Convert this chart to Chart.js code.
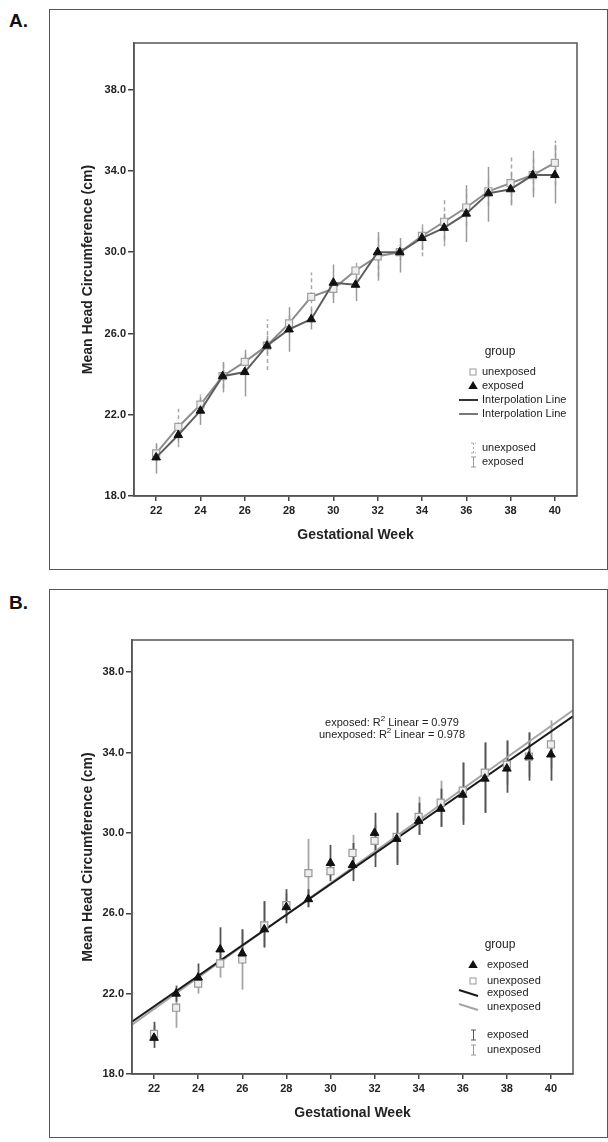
<!DOCTYPE html>
<html>
<head>
<meta charset="utf-8">
<script src="https://cdn.jsdelivr.net/npm/chart.js@4.4.1/dist/chart.umd.min.js"></script>
<style>
  body { margin: 0; background: #fff; width: 608px; height: 1142px; position: relative; overflow: hidden; }
  .tag { position: absolute; font: bold 19px "Liberation Sans", Arial, sans-serif; color: #111; }
  .frame { position: absolute; border: 1.5px solid #555; box-sizing: border-box; }
  canvas { position: absolute; }
</style>
</head>
<body>
<div class="tag" style="left:9px;top:10px">A.</div>
<div class="frame" style="left:49px;top:9px;width:559px;height:561px"></div>
<canvas id="chartA" width="557" height="559" style="left:50px;top:10px"></canvas>

<div class="tag" style="left:9px;top:592px">B.</div>
<div class="frame" style="left:49px;top:589px;width:559px;height:549px"></div>
<canvas id="chartB" width="557" height="547" style="left:50px;top:590px"></canvas>

<script>
const FONT = '"Liberation Sans", Arial, sans-serif';

// gestational weeks and axis ticks
const weeks = [22, 23, 24, 25, 26, 27, 28, 29, 30, 31, 32, 33, 34, 35, 36, 37, 38, 39, 40];
const xTicks = [22, 24, 26, 28, 30, 32, 34, 36, 38, 40];
const yTicks = [18, 22, 26, 30, 34, 38];

// panel A: means and error bar ends
const exposedA   = [19.9, 21.0, 22.2, 23.9, 24.1, 25.4, 26.2, 26.7, 28.5, 28.4, 30.0, 30.0, 30.7, 31.2, 31.9, 32.9, 33.1, 33.8, 33.8];
const unexposedA = [20.1, 21.4, 22.5, 23.9, 24.6, 25.4, 26.5, 27.8, 28.2, 29.1, 29.8, 30.0, 30.8, 31.5, 32.2, 33.0, 33.4, 33.8, 34.4];
const exposedLoA   = [19.1, 20.6, 21.5, 23.1, 22.9, 25.0, 25.1, 26.2, 27.5, 27.6, 28.6, 29.0, 30.1, 30.5, 30.5, 31.5, 32.3, 32.7, 32.4];
const exposedHiA   = [20.6, 21.5, 22.9, 24.6, 25.2, 25.9, 27.3, 27.2, 29.4, 29.0, 31.0, 30.7, 31.2, 31.9, 33.3, 34.2, 33.9, 35.0, 35.3];
const unexposedLoA = [19.7, 20.4, 21.9, 23.3, 24.1, 24.2, 26.0, 26.8, 27.8, 28.6, 28.8, 29.6, 29.8, 30.3, 31.3, 32.3, 32.4, 33.0, 33.3];
const unexposedHiA = [20.5, 22.3, 23.0, 24.5, 25.1, 26.7, 27.0, 29.0, 28.6, 29.6, 30.8, 30.4, 31.5, 32.7, 33.1, 33.7, 34.7, 34.6, 35.5];

// panel B: means, error bar ends, linear fits
const exposedB   = [19.8, 22.0, 22.8, 24.2, 24.0, 25.2, 26.3, 26.7, 28.5, 28.4, 30.0, 29.7, 30.6, 31.2, 31.9, 32.7, 33.2, 33.8, 33.9];
const unexposedB = [20.0, 21.3, 22.5, 23.5, 23.7, 25.4, 26.4, 28.0, 28.1, 29.0, 29.6, 29.8, 30.8, 31.5, 32.1, 33.0, 33.4, 33.8, 34.4];
const exposedLoB   = [19.3, 21.6, 22.7, 23.5, 23.5, 24.3, 25.5, 26.3, 27.6, 27.6, 28.3, 28.4, 29.9, 30.3, 30.4, 31.0, 32.0, 32.6, 32.6];
const exposedHiB   = [20.6, 22.4, 23.5, 25.3, 25.2, 26.6, 27.2, 27.2, 29.4, 29.5, 31.0, 31.0, 31.5, 32.2, 33.5, 34.5, 34.6, 35.0, 34.5];
const unexposedLoB = [19.6, 20.3, 22.0, 22.8, 22.2, 24.3, 25.8, 26.3, 27.8, 28.3, 28.8, 28.5, 29.9, 30.3, 30.6, 31.0, 32.4, 32.8, 33.2];
const unexposedHiB = [20.4, 22.0, 23.0, 24.2, 25.2, 26.6, 27.0, 29.7, 28.5, 29.9, 30.4, 31.0, 31.8, 32.6, 33.5, 34.5, 34.6, 35.0, 35.6];
const fitX = [21, 41];
const fitExposed = [20.6, 35.8];
const fitUnexposed = [20.45, 36.1];

const pts = arr => weeks.map((w, i) => ({ x: w, y: arr[i] }));

// vertical error bars, drawn under the data
const errorBars = {
  id: 'errorBars',
  beforeDatasetsDraw(chart, args, opts) {
    const { ctx, scales: { x, y } } = chart;
    (opts.bars || []).forEach(b => {
      ctx.save();
      ctx.strokeStyle = b.color;
      ctx.lineWidth = b.width;
      ctx.setLineDash(b.dash || []);
      weeks.forEach((w, i) => {
        const px = Math.round(x.getPixelForValue(w)) + 0.5;
        ctx.beginPath();
        ctx.moveTo(px, y.getPixelForValue(b.lo[i]));
        ctx.lineTo(px, y.getPixelForValue(b.hi[i]));
        ctx.stroke();
      });
      ctx.restore();
    });
  }
};

// box round the plot area
const plotFrame = {
  id: 'plotFrame',
  afterDraw(chart) {
    const { ctx, chartArea: a } = chart;
    ctx.save();
    ctx.strokeStyle = '#555';
    ctx.lineWidth = 1.5;
    ctx.strokeRect(a.left, a.top, a.right - a.left, a.bottom - a.top);
    ctx.restore();
  }
};

function drawTri(ctx, x, y, r, fill) {
  ctx.beginPath();
  ctx.moveTo(x, y - r);
  ctx.lineTo(x + r * 0.95, y + r * 0.6);
  ctx.lineTo(x - r * 0.95, y + r * 0.6);
  ctx.closePath();
  ctx.fillStyle = fill;
  ctx.fill();
}

// SPSS-style group legend and notes
const groupLegend = {
  id: 'groupLegend',
  afterDraw(chart, args, o) {
    const ctx = chart.ctx;
    ctx.save();
    ctx.textBaseline = 'middle';
    ctx.font = '12px ' + FONT;
    ctx.fillStyle = '#222';
    ctx.textAlign = 'center';
    ctx.fillText('group', o.titleX, o.titleY);
    ctx.textAlign = 'left';
    ctx.font = '11px ' + FONT;
    o.items.forEach(it => {
      const ix = o.iconX, y = it.y;
      if (it.kind === 'square') {
        ctx.strokeStyle = it.color; ctx.lineWidth = 1;
        ctx.strokeRect(ix - 3, y - 3, 6, 6);
      } else if (it.kind === 'triangle') {
        drawTri(ctx, ix, y, 5, it.color);
      } else if (it.kind === 'line') {
        ctx.strokeStyle = it.color; ctx.lineWidth = 2;
        ctx.beginPath(); ctx.moveTo(ix - 14, y + (it.slope || 0) * -1); ctx.lineTo(ix + 5, y + (it.slope || 0)); ctx.stroke();
      } else if (it.kind === 'ibar') {
        ctx.strokeStyle = it.color; ctx.lineWidth = 1;
        ctx.setLineDash(it.dash || []);
        ctx.beginPath();
        ctx.moveTo(ix + 0.5, y - 5); ctx.lineTo(ix + 0.5, y + 5);
        ctx.moveTo(ix - 2, y - 5); ctx.lineTo(ix + 3, y - 5);
        ctx.moveTo(ix - 2, y + 5); ctx.lineTo(ix + 3, y + 5);
        ctx.stroke();
        ctx.setLineDash([]);
      }
      ctx.fillStyle = '#222';
      ctx.fillText(it.label, o.textX, y);
    });
    (o.notes || []).forEach(n => {
      ctx.font = '11px ' + FONT;
      const pre = n.pre, post = n.post;
      ctx.font = '8px ' + FONT;
      const wSup = ctx.measureText('2').width;
      ctx.font = '11px ' + FONT;
      const w1 = ctx.measureText(pre).width, w2 = ctx.measureText(post).width;
      let x0 = n.cx - (w1 + wSup + w2) / 2;
      ctx.fillText(pre, x0, n.y);
      ctx.font = '8px ' + FONT;
      ctx.fillText('2', x0 + w1, n.y - 4);
      ctx.font = '11px ' + FONT;
      ctx.fillText(post, x0 + w1 + wSup, n.y);
    });
    ctx.restore();
  }
};

function scaleOptions(o) {
  const tickFont = { family: FONT, size: 11, weight: 'bold' };
  const titleFont = { family: FONT, size: 14, weight: 'bold' };
  return {
    x: {
      type: 'linear', min: 21, max: 41,
      afterBuildTicks: s => { s.ticks = xTicks.map(v => ({ value: v })); },
      afterFit: s => { s.height = o.xHeight; },
      grid: { drawOnChartArea: false, tickLength: 5, color: '#444', lineWidth: 1.5 },
      border: { display: true, color: '#555', width: 1.5 },
      ticks: { font: tickFont, color: '#222', padding: 3, maxRotation: 0, autoSkip: false },
      title: { display: true, text: 'Gestational Week', font: titleFont, color: '#222', padding: { top: 0, bottom: o.xTitlePad } }
    },
    y: {
      type: 'linear', min: 18, max: o.yMax,
      afterBuildTicks: s => { s.ticks = yTicks.map(v => ({ value: v })); },
      afterFit: s => { s.width = o.yWidth; },
      grid: { drawOnChartArea: false, tickLength: 6, color: '#444', lineWidth: 1.5 },
      border: { display: true, color: '#555', width: 1.5 },
      ticks: { font: tickFont, color: '#222', padding: 2, callback: v => Number(v).toFixed(1) },
      title: { display: true, text: 'Mean Head Circumference (cm)', font: titleFont, color: '#222', padding: { top: o.yTitlePad, bottom: 0 } }
    }
  };
}

new Chart(document.getElementById('chartA'), {
  type: 'line',
  data: {
    datasets: [
      { label: 'exposed', data: pts(exposedA), borderColor: '#5e5e5e', borderWidth: 2, tension: 0,
        pointStyle: 'triangle', pointRadius: 5, pointBackgroundColor: '#111', pointBorderColor: '#111', pointBorderWidth: 1 },
      { label: 'unexposed', data: pts(unexposedA), borderColor: '#8c8c8c', borderWidth: 2, tension: 0,
        pointStyle: 'rect', pointRadius: 5, pointBackgroundColor: '#eeeeee', pointBorderColor: '#a0a0a0', pointBorderWidth: 1.2 }
    ]
  },
  options: {
    responsive: false,
    animation: false,
    layout: { padding: { left: 0, top: 33, right: 30, bottom: 0 } },
    scales: scaleOptions({ xHeight: 73, yWidth: 84, yMax: 40.3, xTitlePad: 25, yTitlePad: 30 }),
    plugins: {
      legend: { display: false },
      tooltip: { enabled: false },
      errorBars: { bars: [
        { lo: unexposedLoA, hi: unexposedHiA, color: '#a8a8a8', width: 1.5, dash: [4, 3] },
        { lo: exposedLoA, hi: exposedHiA, color: '#9a9a9a', width: 1.5 }
      ] },
      groupLegend: {
        titleX: 450, titleY: 342, iconX: 423, textX: 432,
        items: [
          { kind: 'square', color: '#999', y: 362, label: 'unexposed' },
          { kind: 'triangle', color: '#111', y: 376, label: 'exposed' },
          { kind: 'line', color: '#333', y: 390, label: 'Interpolation Line' },
          { kind: 'line', color: '#777', y: 404, label: 'Interpolation Line' },
          { kind: 'ibar', color: '#aaa', dash: [2, 2], y: 438, label: 'unexposed' },
          { kind: 'ibar', color: '#999', y: 452, label: 'exposed' }
        ]
      }
    }
  },
  plugins: [errorBars, plotFrame, groupLegend]
});

new Chart(document.getElementById('chartB'), {
  type: 'line',
  data: {
    datasets: [
      { label: 'exposed', data: pts(exposedB), showLine: false,
        pointStyle: 'triangle', pointRadius: 5, pointBackgroundColor: '#111', pointBorderColor: '#111', pointBorderWidth: 1 },
      { label: 'unexposed', data: pts(unexposedB), showLine: false,
        pointStyle: 'rect', pointRadius: 5, pointBackgroundColor: '#eeeeee', pointBorderColor: '#999', pointBorderWidth: 1.2 },
      { label: 'exposed fit', data: fitX.map((x, i) => ({ x, y: fitExposed[i] })), borderColor: '#1a1a1a', borderWidth: 2, pointRadius: 0 },
      { label: 'unexposed fit', data: fitX.map((x, i) => ({ x, y: fitUnexposed[i] })), borderColor: '#a5a5a5', borderWidth: 2, pointRadius: 0 }
    ]
  },
  options: {
    responsive: false,
    animation: false,
    layout: { padding: { left: 0, top: 50, right: 34, bottom: 0 } },
    scales: scaleOptions({ xHeight: 63, yWidth: 82, yMax: 39.6, xTitlePad: 15, yTitlePad: 30 }),
    plugins: {
      legend: { display: false },
      tooltip: { enabled: false },
      errorBars: { bars: [
        { lo: unexposedLoB, hi: unexposedHiB, color: '#a5a5a5', width: 1.8 },
        { lo: exposedLoB, hi: exposedHiB, color: '#555', width: 1.8 }
      ] },
      groupLegend: {
        titleX: 450, titleY: 355, iconX: 423, textX: 437,
        items: [
          { kind: 'triangle', color: '#111', y: 375, label: 'exposed' },
          { kind: 'square', color: '#999', y: 391, label: 'unexposed' },
          { kind: 'line', color: '#1a1a1a', slope: 3, y: 403, label: 'exposed' },
          { kind: 'line', color: '#a5a5a5', slope: 3, y: 417, label: 'unexposed' },
          { kind: 'ibar', color: '#555', y: 445, label: 'exposed' },
          { kind: 'ibar', color: '#999', y: 460, label: 'unexposed' }
        ],
        notes: [
          { cx: 342, y: 133, pre: 'exposed: R', post: ' Linear = 0.979' },
          { cx: 342, y: 145, pre: 'unexposed: R', post: ' Linear = 0.978' }
        ]
      }
    }
  },
  plugins: [errorBars, plotFrame, groupLegend]
});
</script>
</body>
</html>
